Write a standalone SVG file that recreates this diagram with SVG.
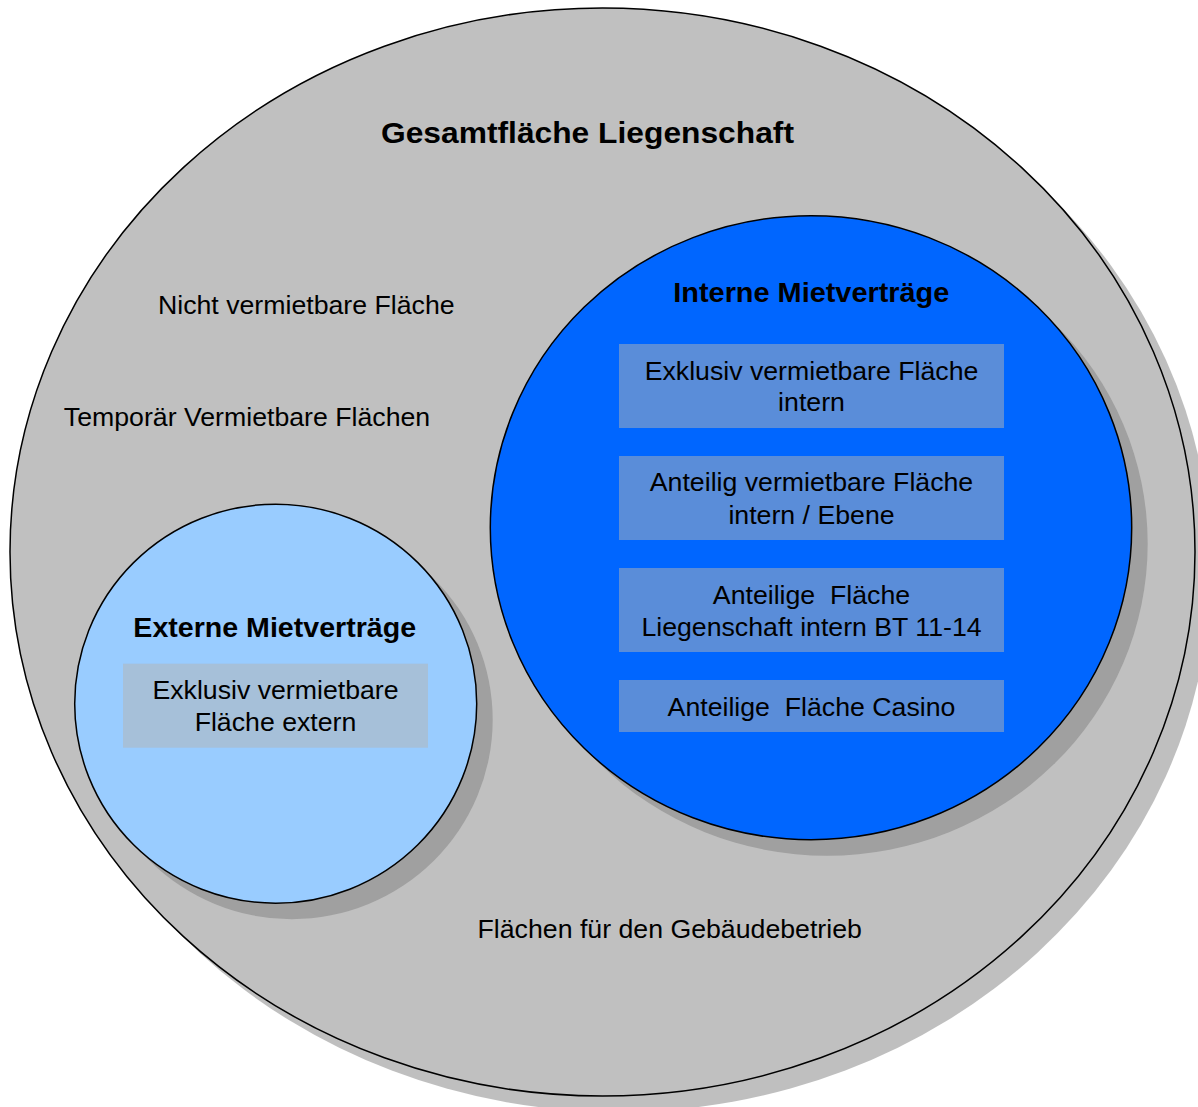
<svg xmlns="http://www.w3.org/2000/svg" width="1198" height="1107" viewBox="0 0 1198 1107">
<style>
  .shadow { fill: #808080; fill-opacity: 0.5; stroke: none; }
  .outline { stroke: #000; stroke-width: 1.5; }
  .box { fill: #b4b4b4; fill-opacity: 0.5; stroke: none; }
  .t { font-family: "Liberation Sans", Arial, sans-serif; font-size: 26.7px; fill: #000; text-anchor: middle; white-space: pre; }
  .b { font-family: "Liberation Sans", Arial, sans-serif; font-weight: bold; fill: #000; text-anchor: middle; }
</style>
<rect width="1198" height="1107" fill="#fff"/>
<g id="gesamtflaeche">
  <ellipse class="shadow" cx="618.5" cy="568" rx="592.5" ry="544"/>
  <ellipse class="outline" cx="602.5" cy="552" rx="592.5" ry="544" fill="#c0c0c0"/>
  <text class="b" x="587.5" y="143.3" font-size="29.5" textLength="413" lengthAdjust="spacingAndGlyphs">Gesamtfläche Liegenschaft</text>
  <text class="t" x="306.3" y="314.3">Nicht vermietbare Fläche</text>
  <text class="t" x="247" y="426.3">Temporär Vermietbare Flächen</text>
  <text class="t" x="669.7" y="938.3">Flächen für den Gebäudebetrieb</text>
</g>
<g id="externe">
  <ellipse class="shadow" cx="291.7" cy="719.7" rx="201" ry="199.5"/>
  <ellipse class="outline" cx="275.7" cy="703.7" rx="201" ry="199.5" fill="#99ccff"/>
  <text class="b" x="274.7" y="636.7" font-size="27.5" textLength="282.7" lengthAdjust="spacingAndGlyphs">Externe Mietverträge</text>
  <g id="ext-box">
    <rect class="box" x="123" y="663.7" width="305" height="84"/>
    <text class="t" x="275.5" y="699.3">Exklusiv vermietbare</text>
    <text class="t" x="275.5" y="731">Fläche extern</text>
  </g>
</g>
<g id="interne">
  <ellipse class="shadow" cx="827" cy="543.7" rx="320.7" ry="312"/>
  <ellipse class="outline" cx="811" cy="527.7" rx="320.7" ry="312" fill="#0066ff"/>
  <text class="b" x="811.3" y="301.7" font-size="27.5" textLength="276" lengthAdjust="spacingAndGlyphs">Interne Mietverträge</text>
  <g id="int-box1">
    <rect class="box" x="619" y="344" width="385" height="84"/>
    <text class="t" x="811.5" y="379.6">Exklusiv vermietbare Fläche</text>
    <text class="t" x="811.5" y="411">intern</text>
  </g>
  <g id="int-box2">
    <rect class="box" x="619" y="456" width="385" height="84"/>
    <text class="t" x="811.5" y="491">Anteilig vermietbare Fläche</text>
    <text class="t" x="811.5" y="523.5">intern / Ebene</text>
  </g>
  <g id="int-box3">
    <rect class="box" x="619" y="568" width="385" height="84"/>
    <text class="t" x="811.5" y="604.4">Anteilige  Fläche</text>
    <text class="t" x="811.5" y="636">Liegenschaft intern BT 11-14</text>
  </g>
  <g id="int-box4">
    <rect class="box" x="619" y="680" width="385" height="52"/>
    <text class="t" x="811.5" y="715.5">Anteilige  Fläche Casino</text>
  </g>
</g>
<g id="connectors"/>
</svg>
